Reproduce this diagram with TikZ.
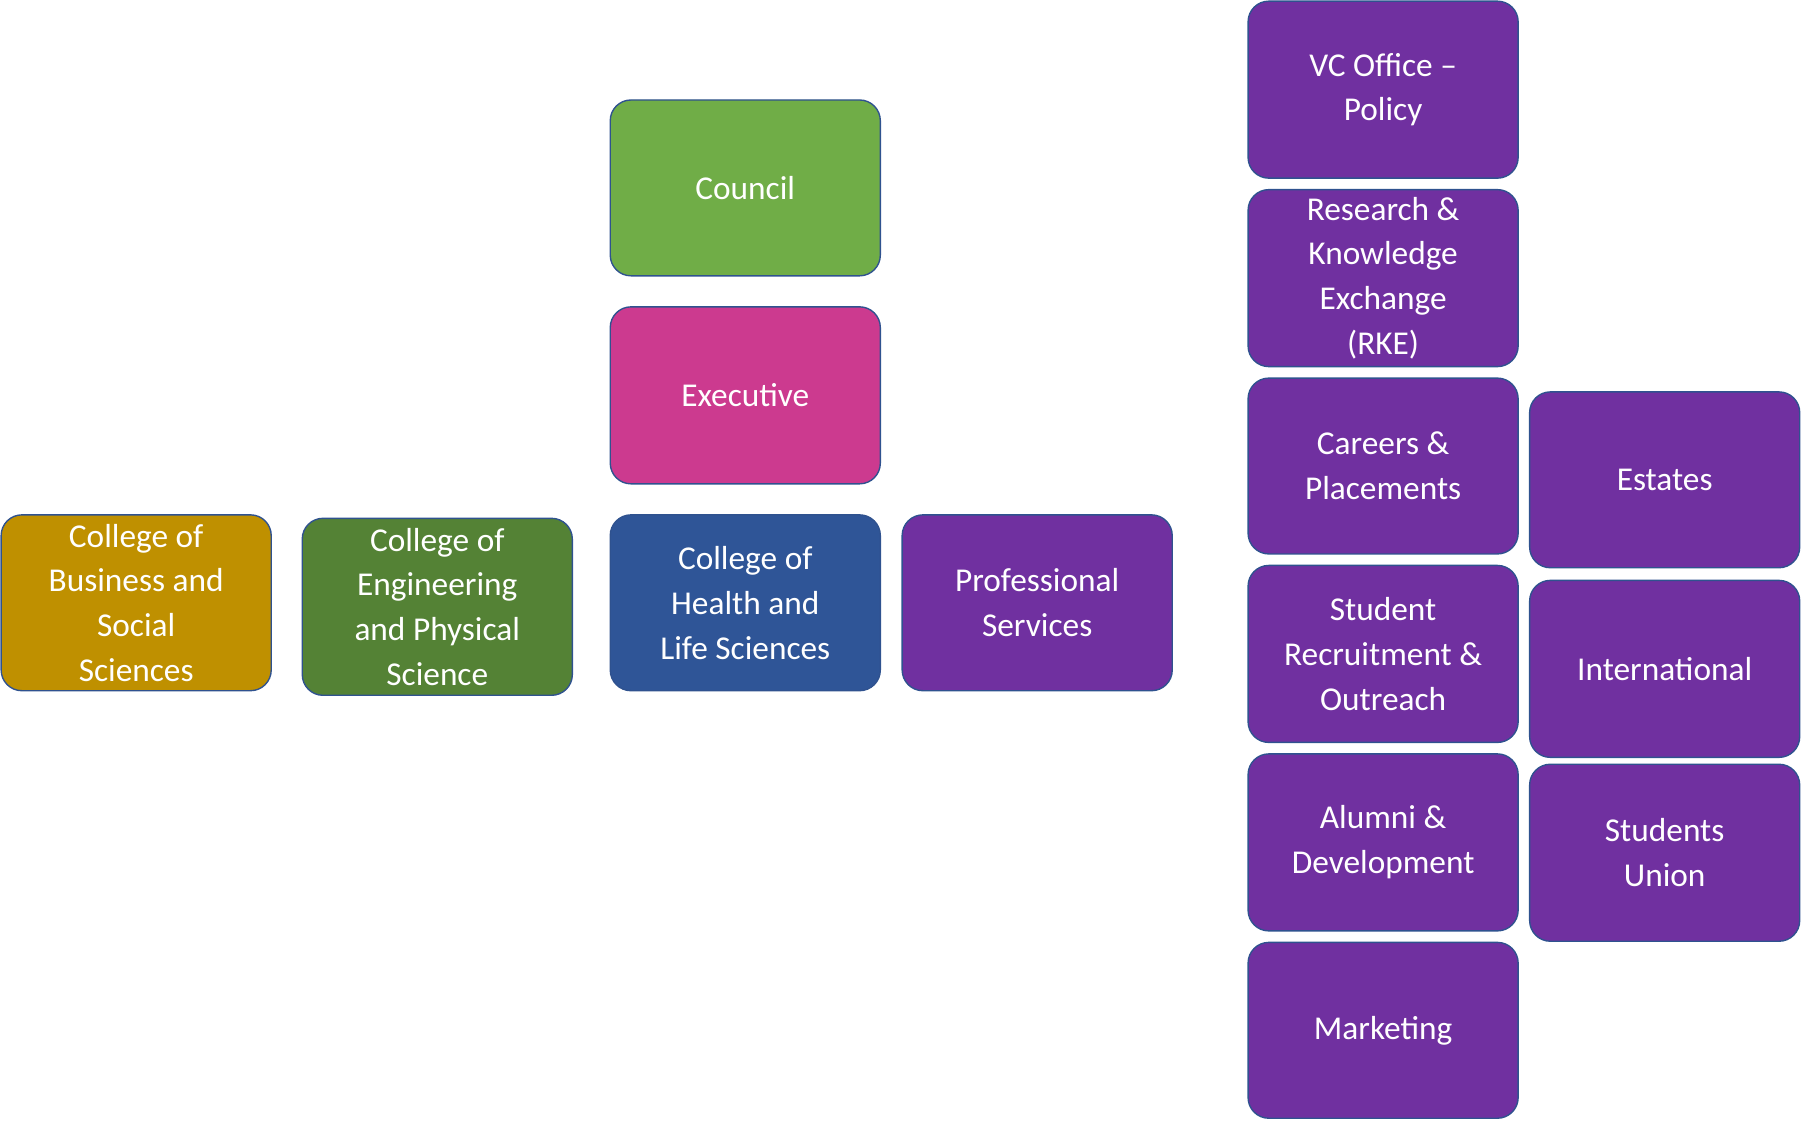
\documentclass[tikz,border=0pt]{standalone}
\usepackage{fontspec}
\setmainfont{Carlito}
\definecolor{cgreen}{HTML}{70AD47}
\definecolor{cpink}{HTML}{CC3A8F}
\definecolor{cgold}{HTML}{BF9000}
\definecolor{cdgreen}{HTML}{548235}
\definecolor{cblue}{HTML}{2F5597}
\definecolor{cpurple}{HTML}{7030A0}
\definecolor{cedge}{HTML}{2F528F}
\begin{document}
\begin{tikzpicture}[x=1pt,y=-1pt,
  box/.style={draw=cedge,line width=1.2pt,rounded corners=18pt,text=white,align=center,
    font=\fontsize{29}{39}\selectfont}]
\useasboundingbox (0,0) rectangle (1568,975);
\newcommand{\bx}[7]{\path[box,fill=#6] (#2,#3) rectangle (#4,#5);
  \node[text=white,align=center,font=\fontsize{29}{39}\selectfont] (#1) at ({(#2+#4)/2},{(#3+#5)/2}) {#7};}
\bx{council}{531}{87}{766}{240}{cgreen}{Council}
\bx{exec}{531}{267}{766}{421}{cpink}{Executive}
\bx{cbss}{1}{448}{236}{601}{cgold}{College of\\Business and\\Social\\Sciences}
\bx{ceps}{263}{451}{498}{605}{cdgreen}{College of\\Engineering\\and Physical\\Science}
\bx{chls}{531}{448}{766}{601}{cblue}{College of\\Health and\\Life Sciences}
\bx{prof}{785}{448}{1020}{601}{cpurple}{Professional\\Services}
\bx{vc}{1086}{1}{1321}{155}{cpurple}{VC Office –\\Policy}
\bx{rke}{1086}{165}{1321}{319}{cpurple}{Research \&\\Knowledge\\Exchange\\(RKE)}
\bx{car}{1086}{329}{1321}{482}{cpurple}{Careers \&\\Placements}
\bx{srec}{1086}{492}{1321}{646}{cpurple}{Student\\Recruitment \&\\Outreach}
\bx{alum}{1086}{656}{1321}{810}{cpurple}{Alumni \&\\Development}
\bx{mkt}{1086}{820}{1321}{973}{cpurple}{Marketing}
\bx{est}{1331}{341}{1566}{494}{cpurple}{Estates}
\bx{intl}{1331}{505}{1566}{659}{cpurple}{International}
\bx{su}{1331}{665}{1566}{819}{cpurple}{Students\\Union}
\end{tikzpicture}
\end{document}
